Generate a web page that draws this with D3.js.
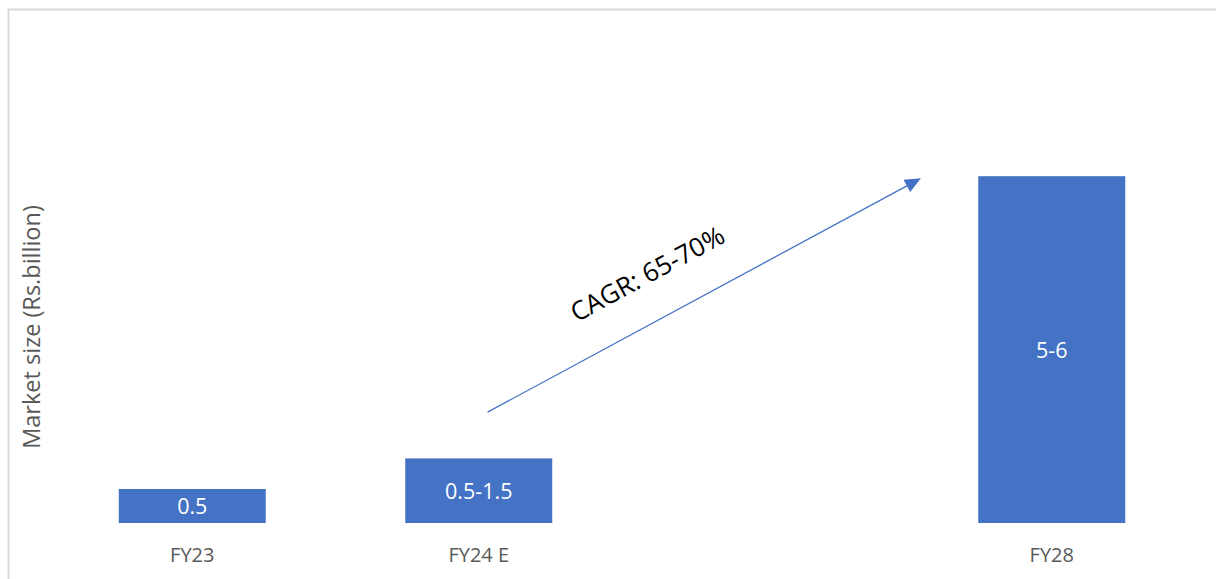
<!DOCTYPE html>
<html>
<head>
<meta charset="utf-8">
<script src="https://cdn.jsdelivr.net/npm/d3@7"></script>
<style>
  html, body { margin: 0; padding: 0; background: #fff; }
  svg { display: block; font-family: "Open Sans", Lato, sans-serif; }
</style>
</head>
<body>
<svg id="chart" width="1216" height="579"></svg>
<script>
// Market size by fiscal year (Rs. billion); the blank slot keeps the gap before FY28
const categories = ["FY23", "FY24 E", "", "FY28"];
const values = [0.5, 0.95, null, 5.1];
const valueLabels = ["0.5", "0.5-1.5", "", "5-6"];
const yAxisTitle = "Market size (Rs.billion)";
const growthNote = "CAGR: 65-70%";

const svg = d3.select("#chart");
const W = 1216, H = 579;
const barColor = "#4472c4";
const font = "'Open Sans', Lato, sans-serif";

// frame
svg.append("rect")
  .attr("x", 8.5).attr("y", 9.5)
  .attr("width", W + 20).attr("height", H + 20)
  .attr("fill", "#fff")
  .attr("stroke", "#d9d9d9").attr("stroke-width", 2);

const x = d3.scaleBand()
  .domain(categories)
  .range([49, 1195])
  .paddingInner(0.487)
  .paddingOuter(0.2435);

const y = d3.scaleLinear()
  .domain([0, 6.5])
  .range([523, 81]);

const data = categories.map((c, i) => ({ c, v: values[i], label: valueLabels[i] }))
  .filter(d => d.v != null);

// bars
svg.append("g").selectAll("rect")
  .data(data)
  .join("rect")
  .attr("x", d => x(d.c))
  .attr("y", d => y(d.v))
  .attr("width", x.bandwidth())
  .attr("height", d => y(0) - y(d.v))
  .attr("fill", barColor);

// value labels centred in the bars
svg.append("g").selectAll("text")
  .data(data)
  .join("text")
  .attr("x", d => x(d.c) + x.bandwidth() / 2)
  .attr("y", d => (y(d.v) + y(0)) / 2)
  .attr("dy", "0.38em")
  .attr("text-anchor", "middle")
  .attr("fill", "#fff")
  .attr("font-size", 21.5)
  .text(d => d.label);

// category axis
const xAxis = d3.axisBottom(x).tickSize(0).tickPadding(25);
const gx = svg.append("g")
  .attr("transform", `translate(0,${y(0)})`)
  .call(xAxis);
gx.select(".domain").remove();
gx.selectAll("text")
  .attr("fill", "#595959")
  .attr("font-size", 20)
  .attr("font-family", font);

// axis title
svg.append("text")
  .attr("transform", `translate(32,327) rotate(-90)`)
  .attr("text-anchor", "middle")
  .attr("dy", "0.36em")
  .attr("fill", "#595959")
  .attr("font-size", 23.5)
  .text(yAxisTitle);

// growth arrow from FY24 E towards FY28
const bw = x.bandwidth();
const p0 = [x("FY24 E") + bw * 0.56, y(1.63)];
const p1 = [x("FY28") - bw * 0.39, y(5.07)];
const dx = p1[0] - p0[0], dy = p1[1] - p0[1];
const len = Math.hypot(dx, dy);
const ux = dx / len, uy = dy / len;
const headLen = 16, headHalf = 7;
const base = [p1[0] - ux * headLen, p1[1] - uy * headLen];

svg.append("line")
  .attr("x1", p0[0]).attr("y1", p0[1])
  .attr("x2", base[0]).attr("y2", base[1])
  .attr("stroke", barColor).attr("stroke-width", 1.3);

svg.append("path")
  .attr("d", d3.line()([
    p1,
    [base[0] - uy * headHalf, base[1] + ux * headHalf],
    [base[0] + uy * headHalf, base[1] - ux * headHalf]
  ]) + "Z")
  .attr("fill", barColor);

// rotated growth note above the arrow
const angle = Math.atan2(dy, dx) * 180 / Math.PI;
const t = 0.419, off = 46;
const nx = uy, ny = -ux; // normal pointing above the line
const cx = p0[0] + dx * t + nx * off;
const cy = p0[1] + dy * t + ny * off;
svg.append("text")
  .attr("transform", `translate(${cx},${cy}) rotate(${angle})`)
  .attr("text-anchor", "middle")
  .attr("dy", "0.36em")
  .attr("fill", "#000")
  .attr("font-size", 26)
  .text(growthNote);
</script>
</body>
</html>
